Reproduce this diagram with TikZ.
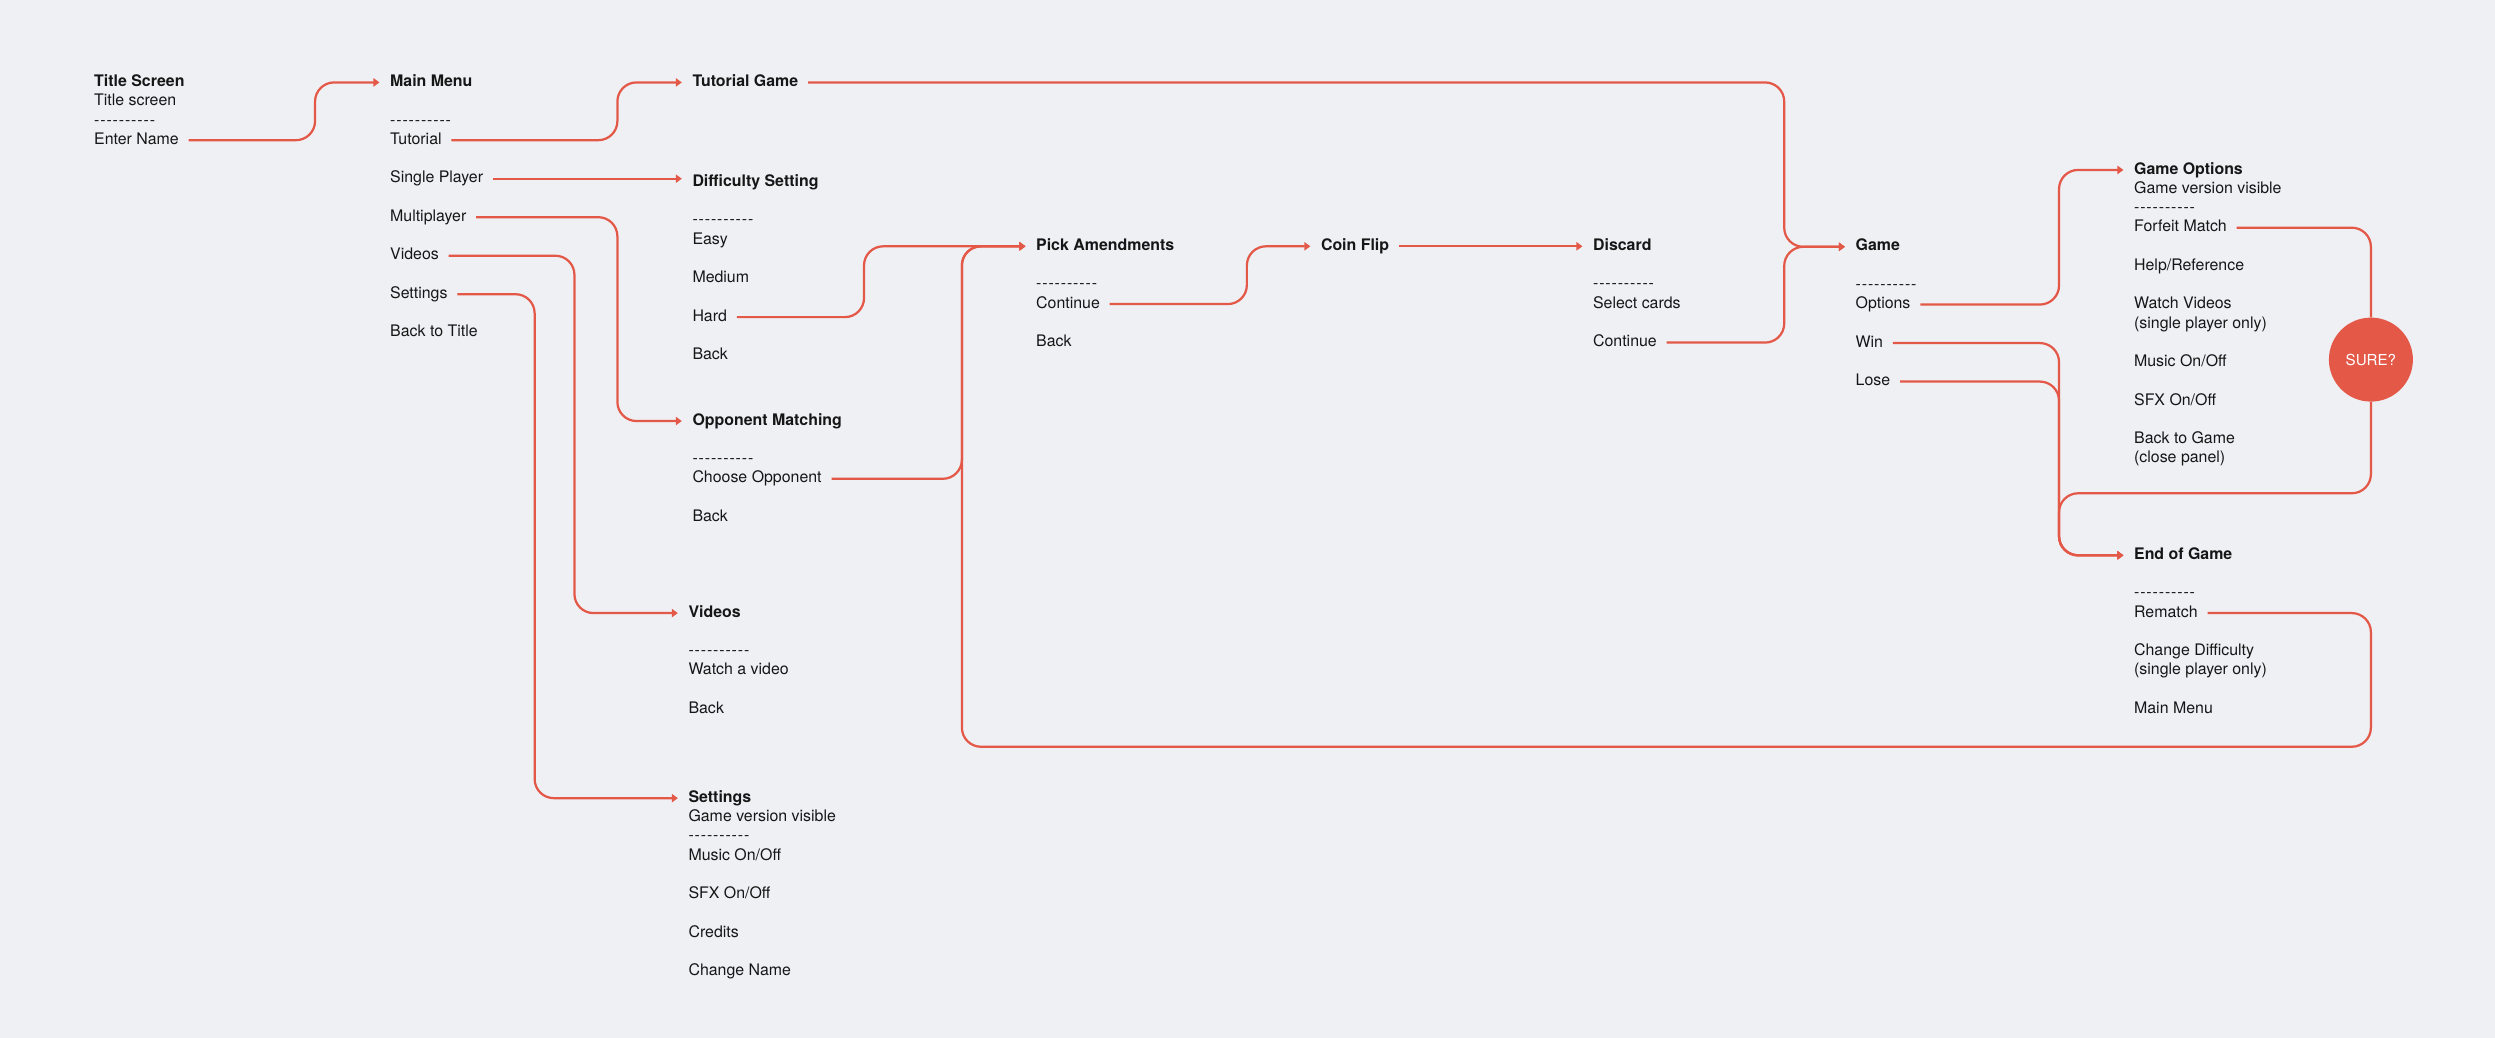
\documentclass[tikz,border=0pt]{standalone}
\usepackage{fontspec}
\setmainfont{TeX Gyre Heros}
\usetikzlibrary{arrows.meta}
\definecolor{bgc}{RGB}{239,240,244}
\definecolor{lr}{RGB}{228,88,72}
\definecolor{tx}{RGB}{22,22,22}
\newcommand\hyk{-\kern0.55pt}
\newcommand\dashrow{\hyk\hyk\hyk\hyk\hyk\hyk\hyk\hyk\hyk-}
\begin{document}
\begin{tikzpicture}[x=1pt,y=-1pt,
  item/.style={anchor=west, inner xsep=0pt, inner ysep=0pt, text height=5.2pt, text depth=0pt, font=\fontsize{10}{12}\selectfont, text=tx},
  head/.style={item, font=\fontsize{10}{12}\selectfont\bfseries},
  conn/.style={draw=lr, line width=1.4pt, rounded corners=12pt, shorten <=6pt},
  arr/.style={conn, -{Triangle[length=3.8pt,width=5.2pt]}, shorten >=6.5pt},
  sure/.style={circle, fill=lr, minimum size=52.8pt, inner sep=0pt, text=white, font=\fontsize{9.5}{11}\selectfont},
]
\fill[bgc] (0,-0.8) rectangle (1568,651.5);
\useasboundingbox (0,-0.8) rectangle (1568,651.5);

% Title Screen
\node[head] (ts) at (59,51) {Title Screen};
\node[item] (tsa) at (59,63.1) {Title screen};
\node[item] (tsb) at (59,75.2) {\dashrow};
\node[item] (tsc) at (59,87.3) {Enter Name};

% Main Menu
\node[head] (mm) at (245,51) {Main Menu};
\node[item] (mmd) at (245,75.2) {\dashrow};
\node[item] (mm1) at (245,87.3) {Tutorial};
\node[item] (mm2) at (245,111.5) {Single Player};
\node[item] (mm3) at (245,135.7) {Multiplayer};
\node[item] (mm4) at (245,159.9) {Videos};
\node[item] (mm5) at (245,184.1) {Settings};
\node[item] (mm6) at (245,208.3) {Back to Title};

% Tutorial Game
\node[head] (tg) at (435,51) {Tutorial Game};

% Difficulty Setting
\node[head] (ds) at (435,113.8) {Difficulty Setting};
\node[item] (dsd) at (435,138) {\dashrow};
\node[item] (ds1) at (435,150.1) {Easy};
\node[item] (ds2) at (435,174.3) {Medium};
\node[item] (ds3) at (435,198.5) {Hard};
\node[item] (ds4) at (435,222.7) {Back};

% Opponent Matching
\node[head] (om) at (435,263.8) {Opponent Matching};
\node[item] (omd) at (435,288) {\dashrow};
\node[item] (om1) at (435,300.1) {Choose Opponent};
\node[item] (om2) at (435,324.3) {Back};

% Videos
\node[head] (vi) at (432.5,384.5) {Videos};
\node[item] (vid) at (432.5,408.7) {\dashrow};
\node[item] (vi1) at (432.5,420.8) {Watch a video};
\node[item] (vi2) at (432.5,445) {Back};

% Settings
\node[head] (se) at (432.5,500.8) {Settings};
\node[item] (sea) at (432.5,512.9) {Game version visible};
\node[item] (sed) at (432.5,525) {\dashrow};
\node[item] (se1) at (432.5,537.1) {Music On/Off};
\node[item] (se2) at (432.5,561.3) {SFX On/Off};
\node[item] (se3) at (432.5,585.5) {Credits};
\node[item] (se4) at (432.5,609.7) {Change Name};

% Pick Amendments
\node[head] (pa) at (651,154) {Pick Amendments};
\node[item] (pad) at (651,178.2) {\dashrow};
\node[item] (pa1) at (651,190.3) {Continue};
\node[item] (pa2) at (651,214.5) {Back};

% Coin Flip
\node[head] (cf) at (830,154) {Coin Flip};

% Discard
\node[head] (di) at (1001,154) {Discard};
\node[item] (did) at (1001,178.2) {\dashrow};
\node[item] (di1) at (1001,190.3) {Select cards};
\node[item] (di2) at (1001,214.5) {Continue};

% Game
\node[head] (ga) at (1166,154.3) {Game};
\node[item] (gad) at (1166,178.5) {\dashrow};
\node[item] (ga1) at (1166,190.6) {Options};
\node[item] (ga2) at (1166,214.8) {Win};
\node[item] (ga3) at (1166,239) {Lose};

% Game Options
\node[head] (go) at (1341,106) {Game Options};
\node[item] (goa) at (1341,118.1) {Game version visible};
\node[item] (god) at (1341,130.2) {\dashrow};
\node[item] (go1) at (1341,142.3) {Forfeit Match};
\node[item] (go2) at (1341,166.5) {Help/Reference};
\node[item] (go3) at (1341,190.7) {Watch Videos};
\node[item] (go3b) at (1341,202.8) {(single player only)};
\node[item] (go4) at (1341,227) {Music On/Off};
\node[item] (go5) at (1341,251.2) {SFX On/Off};
\node[item] (go6) at (1341,275.4) {Back to Game};
\node[item] (go6b) at (1341,287.5) {(close panel)};

% End of Game
\node[head] (eg) at (1341,348.2) {End of Game};
\node[item] (egd) at (1341,372.4) {\dashrow};
\node[item] (eg1) at (1341,384.5) {Rematch};
\node[item] (eg2) at (1341,408.7) {Change Difficulty};
\node[item] (eg2b) at (1341,420.8) {(single player only)};
\node[item] (eg3) at (1341,445) {Main Menu};

% Confirmation
\node[sure] (sure) at (1490,225.2) {SURE?};

% lanes
\coordinate (lA) at (198,0);
\coordinate (lB) at (388,0);
\coordinate (lC) at (361,0);
\coordinate (lD) at (336,0);
\coordinate (lE) at (543,0);
\coordinate (lF) at (604.5,0);
\coordinate (lG) at (783.6,0);
\coordinate (lH) at (1121.3,0);
\coordinate (lI) at (1294,0);
\coordinate (bot) at (1490,468.5);
\coordinate (ret) at (1294,309.2);

% connectors
\draw[arr] (tsc.east) -| (mm.west -| lA) -- (mm.west);
\draw[arr] (mm1.east) -| (tg.west -| lB) -- (tg.west);
\draw[arr] (mm2.east) -- (mm2.east -| ds.west);
\draw[arr] (mm3.east) -| (om.west -| lB) -- (om.west);
\draw[arr] (mm4.east) -| (vi.west -| lC) -- (vi.west);
\draw[arr] (mm5.east) -| (se.west -| lD) -- (se.west);
\draw[arr] (tg.east) -| (ga.west -| lH) -- (ga.west);
\draw[arr] (ds3.east) -| (pa.west -| lE) -- (pa.west);
\draw[arr] (om1.east) -| (pa.west -| lF) -- (pa.west);
\draw[arr] (eg1.east) -| (bot) -| (pa.west -| lF) -- (pa.west);
\draw[arr] (pa1.east) -| (cf.west -| lG) -- (cf.west);
\draw[arr] (cf.east) -- (di.west);
\draw[arr] (di2.east) -| (ga.west -| lH) -- (ga.west);
\draw[arr] (ga1.east) -| (go.west -| lI) -- (go.west);
\draw[arr] (ga2.east) -| (eg.west -| lI) -- (eg.west);
\draw[arr] (ga3.east) -| (eg.west -| lI) -- (eg.west);
\draw[conn] (go1.east) -| (sure.north);
\draw[arr, shorten <=0pt] (sure.south) |- (ret) |- (eg.west);
\end{tikzpicture}
\end{document}
